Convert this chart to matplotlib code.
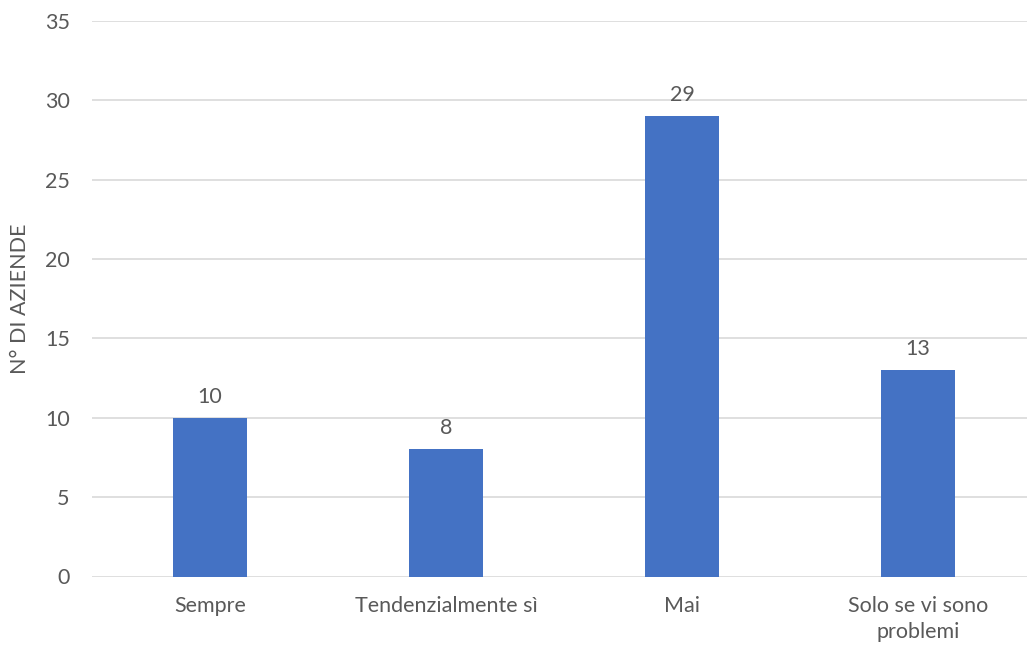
import matplotlib
matplotlib.use("Agg")
import matplotlib.pyplot as plt

categories = ["Sempre", "Tendenzialmente sì", "Mai", "Solo se vi sono\nproblemi"]
values = [10, 8, 29, 13]
y_ticks = [0, 5, 10, 15, 20, 25, 30, 35]
y_label = "N° DI AZIENDE"

plt.rcParams["font.family"] = ["Lato", "DejaVu Sans"]
text_color = "#595959"
fs = 15.5

fig = plt.figure(figsize=(10.27, 6.5), dpi=100)
ax = fig.add_axes([92 / 1027, (650 - 576.5) / 650, 935 / 1027, (576.5 - 20.7) / 650])

x = list(range(len(categories)))
ax.bar(x, values, width=0.313, color="#4472C4", zorder=3)

for xi, v in zip(x, values):
    ax.annotate(str(v), (xi, v), xytext=(0, 8), textcoords="offset points",
                ha="center", va="bottom", fontsize=fs, color=text_color)

ax.set_xlim(-0.5, 3.5 - 9 / 236)
ax.set_ylim(0, 35)
ax.set_yticks(y_ticks)
ax.set_xticks(x)
ax.set_xticklabels(categories, fontsize=fs, color=text_color, linespacing=1.35)
ax.tick_params(axis="y", labelsize=fs, labelcolor=text_color, length=0, pad=16)
ax.tick_params(axis="x", length=0, pad=14)

ax.grid(axis="y", color="#D9D9D9", linewidth=1.2, zorder=0)
for spine in ax.spines.values():
    spine.set_visible(False)

ax.set_ylabel(y_label, fontsize=fs, color=text_color, va="center")
ax.yaxis.set_label_coords(-72 / 935, 0.5)

fig.savefig("out.png", dpi=100)
